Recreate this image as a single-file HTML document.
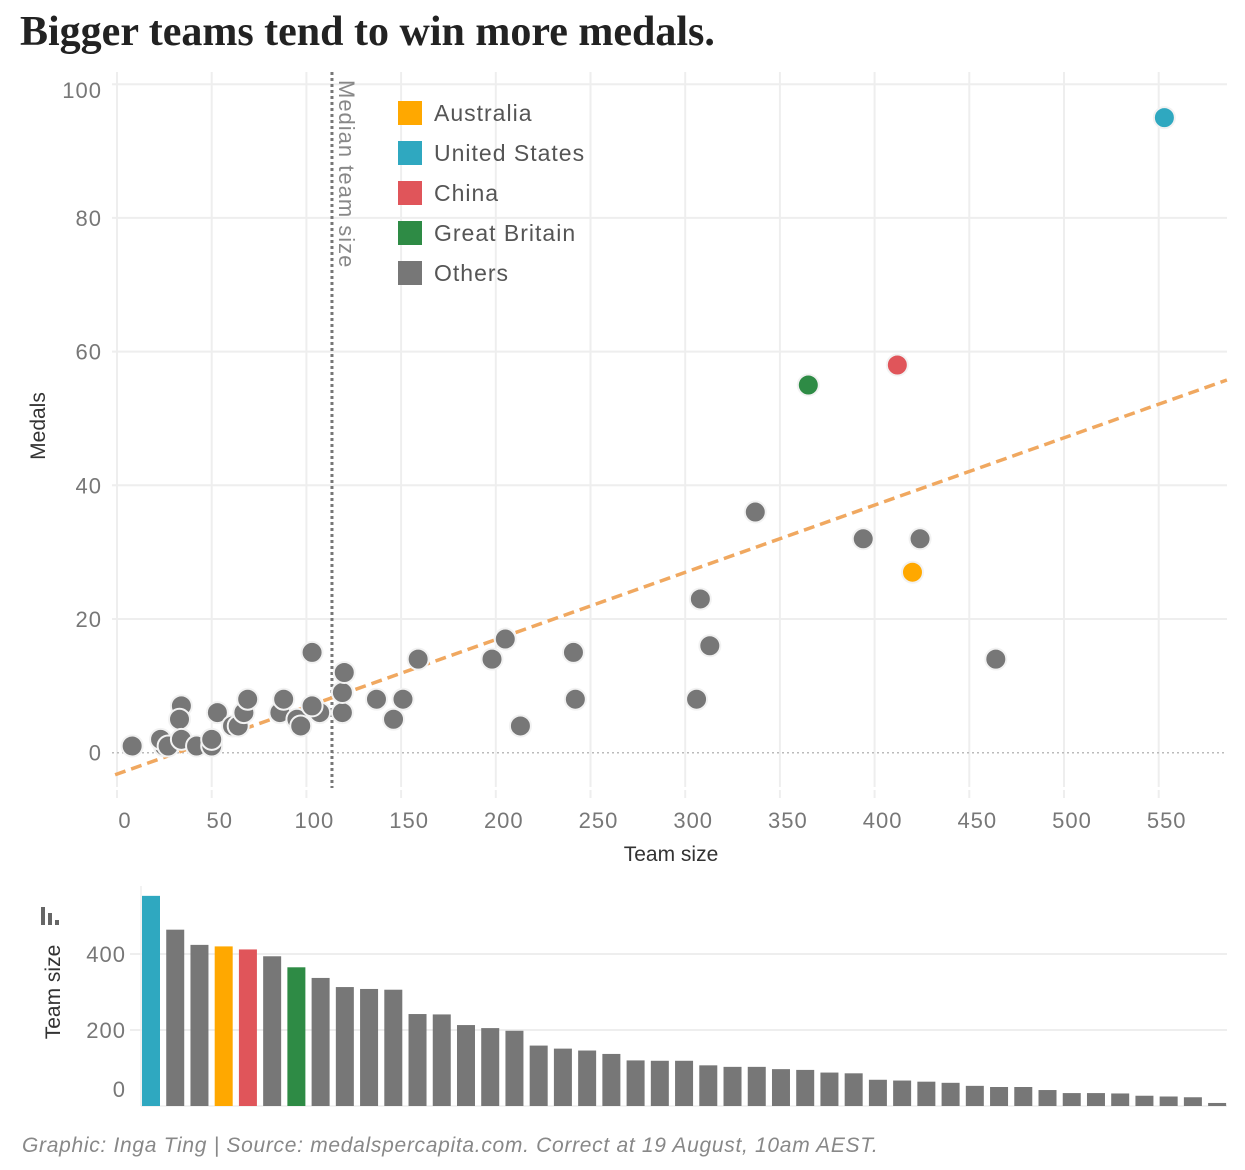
<!DOCTYPE html>
<html><head><meta charset="utf-8"><style>
body{margin:0;background:#fff;width:1245px;height:1170px;overflow:hidden}
svg{display:block}
text{font-family:"Liberation Sans",sans-serif}
</style></head><body>
<svg id="c" width="1245" height="1170">
<text x="20" y="45" style="font-family:'Liberation Serif',serif" font-weight="bold" font-size="42" fill="#222">Bigger teams tend to win more medals.</text>
<g id="grid"></g>
<g id="trend"></g>
<g id="pts"></g>
<g id="bars"></g>
<text x="671" y="861" text-anchor="middle" font-size="21" fill="#333">Team size</text>
<text transform="translate(45,426) rotate(-90)" text-anchor="middle" font-size="21" fill="#333">Medals</text>
<text transform="translate(60,992) rotate(-90)" text-anchor="middle" font-size="21" fill="#333">Team size</text>
<g fill="#666"><rect x="41" y="907" width="4" height="18"/><rect x="48" y="913" width="4" height="12"/><rect x="55" y="920" width="4" height="5"/></g>
<text transform="translate(339,80) rotate(90)" font-size="22" letter-spacing="1" fill="#888">Median team size</text>
<g id="legend"></g>
<text x="22" y="1152" font-style="italic" font-size="21" letter-spacing="0.7" fill="#888">Graphic: Inga Ting | Source: medalspercapita.com. Correct at 19 August, 10am AEST.</text>
</svg>
<script>
const teams=[553,412,365,420,337,394,424,308,313,306,464,241,242,213,198,205,159,151,137,146,120,119,119,103,103,107,97,95,88,86,69,67,64,61,53,50,50,42,34,33,34,27,23,25,8];
const medals=[95,58,55,27,36,32,32,23,16,8,14,15,8,4,14,17,14,8,8,5,12,9,6,15,7,6,4,5,8,6,8,6,4,4,6,2,1,1,2,5,7,1,2,1,1];
const groups=["United States","China","Great Britain","Australia"];
const xTicks=[0,50,100,150,200,250,300,350,400,450,500,550];
const yTicks=[0,20,40,60,80,100];
const barTicks=[0,200,400];
const median=113.5, trendSlope=0.1006, trendIntercept=-3.2;
const colors={"United States":"#2fa8c0","China":"#e0555a","Great Britain":"#2e8b45","Australia":"#ffa800","Others":"#777"};
const NS="http://www.w3.org/2000/svg";
const X=v=>117+v*1.894, Y=v=>752.7-v*6.685, BY=v=>1106-v*0.38;
function mk(p,tag,a){const e=document.createElementNS(NS,tag);for(const k in a)e.setAttribute(k,a[k]);p.appendChild(e);return e;}
const grid=document.getElementById('grid');
xTicks.forEach(t=>{
 const l=mk(grid,'line',{x1:X(t),x2:X(t),y1:72,y2:787,stroke:'#eee','stroke-width':2});
 
 
 mk(grid,'line',{x1:X(t),x2:X(t),y1:790,y2:798,stroke:'#eee','stroke-width':2});
 const tx=mk(grid,'text',{x:X(t)+8,y:828,'text-anchor':'middle','font-size':22,'letter-spacing':1,fill:'#777'});tx.textContent=t;
 
 
});
yTicks.forEach(t=>{
 const l=mk(grid,'line',{x1:112,x2:1227,y1:Y(t),y2:Y(t),stroke:t==0?'#bbb':'#eee','stroke-width':t==0?1.5:2,'stroke-dasharray':t==0?'2 3':'none'});
 
 
 const tx=mk(grid,'text',{x:102,y:Y(t)+8+(t==100?6:0),'text-anchor':'end','font-size':22,'letter-spacing':1,fill:'#777'});tx.textContent=t;
 
 
});
const ml=mk(grid,'line',{x1:X(median),x2:X(median),y1:72,y2:788,stroke:'#777','stroke-width':3,'stroke-dasharray':'3 3'});


const tr=mk(document.getElementById('trend'),'line',{x1:X(-1),y1:Y(trendIntercept-trendSlope),x2:X(586),y2:Y(trendIntercept+trendSlope*586),stroke:'#f0a860','stroke-width':3.5,'stroke-dasharray':'11 6'});


const pts=document.getElementById('pts');
const order=teams.map((t,i)=>i).reverse();
order.forEach(i=>{
 const g=i<4?groups[i]:"Others";
 const c=mk(pts,'circle',{cx:X(teams[i]),cy:Y(medals[i]),r:10.5,fill:colors[g],stroke:'#f2f2f2','stroke-width':2});
 
 
});
const bars=document.getElementById('bars');
barTicks.forEach(t=>{
 if(t>0){const l=mk(bars,'line',{x1:130,x2:1227,y1:BY(t),y2:BY(t),stroke:'#eee','stroke-width':2});
 
 }
 const tx=mk(bars,'text',{x:126,y:t==0?1097:BY(t)+8,'text-anchor':'end','font-size':22,'letter-spacing':1,fill:'#777'});tx.textContent=t;
 
 
});
mk(bars,'line',{x1:141,x2:141,y1:886,y2:1106,stroke:'#eee','stroke-width':1.5});
mk(bars,'line',{x1:141,x2:1227,y1:1106,y2:1106,stroke:'#eee','stroke-width':1.5});
const sorted=teams.map((t,i)=>i).sort((a,b)=>teams[b]-teams[a]);
sorted.forEach((i,k)=>{
 const g=i<4?groups[i]:"Others";
 const r=mk(bars,'rect',{x:142+k*24.23,y:BY(teams[i]),width:18,height:1106-BY(teams[i]),fill:colors[g]});
 
 
});
const lg=document.getElementById('legend');
["Australia","United States","China","Great Britain","Others"].forEach((n,k)=>{
 const r=mk(lg,'rect',{x:398,y:101+k*40,width:24,height:24,fill:colors[n]});
 
 
 const t=mk(lg,'text',{x:434,y:121+k*40,'font-size':23,'letter-spacing':1,fill:'#555'});t.textContent=n;
 
 
});
</script>
</body></html>
